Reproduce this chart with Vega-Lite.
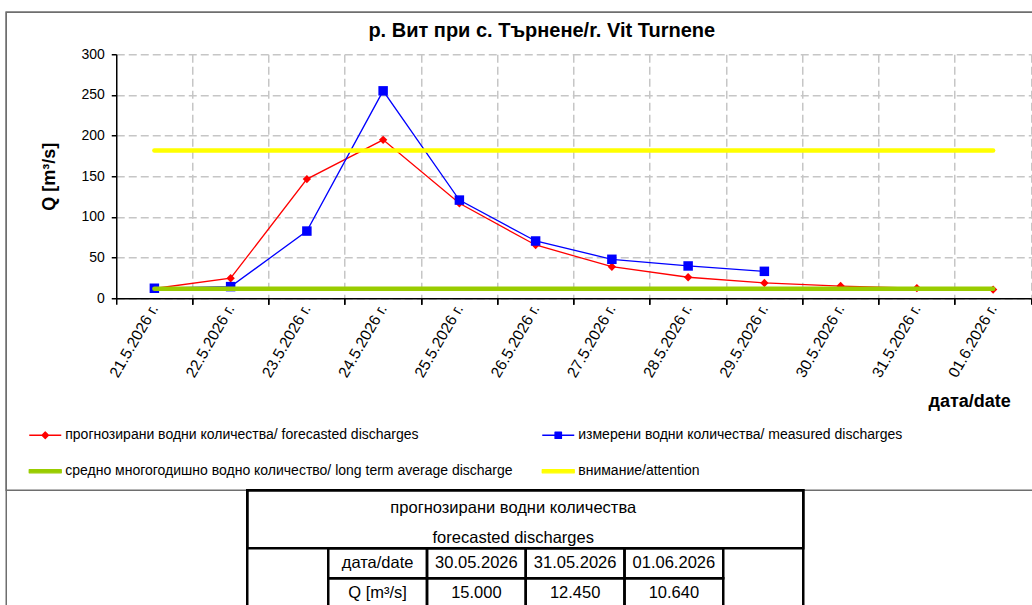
{
  "$schema": "https://vega.github.io/schema/vega-lite/v6.json",
  "autosize": {"type": "pad"},
  "padding": {"left": 5.25, "top": 11.25, "right": 0, "bottom": 0},
  "bounds": "flush",
  "spacing": 192,
  "background": "white",
  "config": {
    "font": "Liberation Sans",
    "view": {"stroke": null},
    "axis": {"labelColor": "black", "titleColor": "black", "domainColor": "black", "tickColor": "black", "labelFont": "Liberation Sans", "titleFont": "Liberation Sans", "gridColor": "#c6c6c6", "gridDash": [8, 4], "gridWidth": 1.5, "domainWidth": 1.5, "tickWidth": 1.5},
    "title": {"font": "Liberation Sans", "color": "black"}
  },
  "vconcat": [
    {
      "width": 915,
      "height": 244,
      "title": {"text": "р. Вит при с. Търнене/r. Vit Turnene", "fontSize": 20, "fontWeight": "bold", "dx": -32, "offset": 6},
      "data": {"values": [
        {"d": "21.5.2026 г.", "s": "f", "q": 12},
        {"d": "22.5.2026 г.", "s": "f", "q": 24.6},
        {"d": "23.5.2026 г.", "s": "f", "q": 146.5},
        {"d": "24.5.2026 г.", "s": "f", "q": 194.8},
        {"d": "25.5.2026 г.", "s": "f", "q": 116.7},
        {"d": "26.5.2026 г.", "s": "f", "q": 65.5},
        {"d": "27.5.2026 г.", "s": "f", "q": 38.8},
        {"d": "28.5.2026 г.", "s": "f", "q": 25.8},
        {"d": "29.5.2026 г.", "s": "f", "q": 18.8},
        {"d": "30.5.2026 г.", "s": "f", "q": 15.0},
        {"d": "31.5.2026 г.", "s": "f", "q": 12.45},
        {"d": "01.6.2026 г.", "s": "f", "q": 10.64},
        {"d": "21.5.2026 г.", "s": "m", "q": 12.3},
        {"d": "22.5.2026 г.", "s": "m", "q": 14.3},
        {"d": "23.5.2026 г.", "s": "m", "q": 82.6},
        {"d": "24.5.2026 г.", "s": "m", "q": 255},
        {"d": "25.5.2026 г.", "s": "m", "q": 120.7},
        {"d": "26.5.2026 г.", "s": "m", "q": 70.4},
        {"d": "27.5.2026 г.", "s": "m", "q": 47.9},
        {"d": "28.5.2026 г.", "s": "m", "q": 39.7},
        {"d": "29.5.2026 г.", "s": "m", "q": 33.1},
        {"d": "21.5.2026 г.", "s": "a", "q": 11.8},
        {"d": "22.5.2026 г.", "s": "a", "q": 11.8},
        {"d": "23.5.2026 г.", "s": "a", "q": 11.8},
        {"d": "24.5.2026 г.", "s": "a", "q": 11.8},
        {"d": "25.5.2026 г.", "s": "a", "q": 11.8},
        {"d": "26.5.2026 г.", "s": "a", "q": 11.8},
        {"d": "27.5.2026 г.", "s": "a", "q": 11.8},
        {"d": "28.5.2026 г.", "s": "a", "q": 11.8},
        {"d": "29.5.2026 г.", "s": "a", "q": 11.8},
        {"d": "30.5.2026 г.", "s": "a", "q": 11.8},
        {"d": "31.5.2026 г.", "s": "a", "q": 11.8},
        {"d": "01.6.2026 г.", "s": "a", "q": 11.8},
        {"d": "21.5.2026 г.", "s": "w", "q": 181.7},
        {"d": "22.5.2026 г.", "s": "w", "q": 181.7},
        {"d": "23.5.2026 г.", "s": "w", "q": 181.7},
        {"d": "24.5.2026 г.", "s": "w", "q": 181.7},
        {"d": "25.5.2026 г.", "s": "w", "q": 181.7},
        {"d": "26.5.2026 г.", "s": "w", "q": 181.7},
        {"d": "27.5.2026 г.", "s": "w", "q": 181.7},
        {"d": "28.5.2026 г.", "s": "w", "q": 181.7},
        {"d": "29.5.2026 г.", "s": "w", "q": 181.7},
        {"d": "30.5.2026 г.", "s": "w", "q": 181.7},
        {"d": "31.5.2026 г.", "s": "w", "q": 181.7},
        {"d": "01.6.2026 г.", "s": "w", "q": 181.7}
      ]},
      "resolve": {"axis": {"x": "independent"}},
      "encoding": {
        "y": {"field": "q", "type": "quantitative", "scale": {"domain": [0, 300], "nice": false},
          "axis": {"values": [0, 50, 100, 150, 200, 250, 300], "grid": true, "tickSize": 5, "labelFontSize": 14, "labelPadding": 7, "title": "Q [m³/s]", "titleFontSize": 18, "titleFontWeight": "bold", "titlePadding": 22}},
        "color": {"field": "s", "type": "nominal",
          "scale": {"domain": ["f", "m", "a", "w"], "range": ["#ff0000", "#0000ff", "#99cc00", "#ffff00"]},
          "legend": {
            "orient": "none", "legendX": -88, "legendY": 364, "columns": 2, "direction": "horizontal", "title": null,
            "columnPadding": 28, "rowPadding": 12, "padding": 0,
            "symbolSize": 1024, "symbolStrokeWidth": 1.3, "labelFontSize": 14, "labelColor": "black", "labelOffset": 3, "labelLimit": 0,
            "labelExpr": "datum.value === 'f' ? 'прогнозирани водни количества/ forecasted discharges' : datum.value === 'm' ? 'измерени водни количества/ measured discharges' : datum.value === 'a' ? 'средно многогодишно водно количество/ long term average discharge' : 'внимание/attention'",
            "encode": {"symbols": {"update": {
              "size": {"value": 1024},
              "strokeWidth": {"value": 1.3},
              "shape": {"signal": "datum.value === 'f' ? 'M-1,0H1M0,-0.2L0.2,0L0,0.2L-0.2,0Z' : datum.value === 'm' ? 'M-1,0H1M-0.2,-0.2H0.2V0.2H-0.2Z' : 'M-1,-0.1H1V0.1H-1Z'"},
              "fill": {"signal": "datum.value === 'f' ? '#ff0000' : datum.value === 'm' ? '#0000ff' : datum.value === 'a' ? '#99cc00' : '#ffff00'"},
              "stroke": {"signal": "datum.value === 'f' ? '#ff0000' : datum.value === 'm' ? '#0000ff' : datum.value === 'a' ? '#99cc00' : '#ffff00'"},
              "opacity": {"value": 1},
              "strokeJoin": {"value": "round"}
            }}}
          }}
      },
      "layer": [
        {
          "transform": [{"filter": "datum.s === 'f'"}],
          "mark": {"type": "line", "strokeWidth": 1.3, "point": {"shape": "diamond", "size": 70, "filled": true}},
          "encoding": {"x": {"field": "d", "type": "ordinal",
            "scale": {"type": "band", "domain": ["21.5.2026 г.", "22.5.2026 г.", "23.5.2026 г.", "24.5.2026 г.", "25.5.2026 г.", "26.5.2026 г.", "27.5.2026 г.", "28.5.2026 г.", "29.5.2026 г.", "30.5.2026 г.", "31.5.2026 г.", "01.6.2026 г."], "paddingInner": 0, "paddingOuter": 0},
            "axis": {"orient": "bottom", "bandPosition": 0.5, "ticks": false, "domain": false, "grid": false, "labelAngle": -60, "labelFontSize": 15.5, "labelPadding": 7, "title": "дата/date", "titleFontSize": 18, "titleFontWeight": "bold", "titleX": 894, "titleY": 108, "titleAlign": "right", "titleBaseline": "alphabetic"}}}
        },
        {
          "transform": [{"filter": "datum.s === 'm'"}],
          "mark": {"type": "line", "strokeWidth": 1.3, "point": {"shape": "square", "size": 90, "filled": true}},
          "encoding": {"x": {"field": "d", "type": "ordinal",
            "scale": {"type": "band", "domain": ["21.5.2026 г.", "22.5.2026 г.", "23.5.2026 г.", "24.5.2026 г.", "25.5.2026 г.", "26.5.2026 г.", "27.5.2026 г.", "28.5.2026 г.", "29.5.2026 г.", "30.5.2026 г.", "31.5.2026 г.", "01.6.2026 г."], "paddingInner": 0, "paddingOuter": 0},
            "axis": {"orient": "bottom", "bandPosition": 1, "labels": false, "ticks": true, "tickSize": 6, "domain": true, "grid": true, "title": null}}}
        },
        {
          "transform": [{"filter": "datum.s === 'a'"}],
          "mark": {"type": "line", "strokeWidth": 4.5, "strokeCap": "round"},
          "encoding": {"x": {"field": "d", "type": "ordinal",
            "scale": {"type": "band", "domain": ["21.5.2026 г.", "22.5.2026 г.", "23.5.2026 г.", "24.5.2026 г.", "25.5.2026 г.", "26.5.2026 г.", "27.5.2026 г.", "28.5.2026 г.", "29.5.2026 г.", "30.5.2026 г.", "31.5.2026 г.", "01.6.2026 г."], "paddingInner": 0, "paddingOuter": 0},
            "axis": {"orient": "bottom", "bandPosition": 0, "labels": false, "ticks": true, "tickSize": 6, "domain": false, "grid": false, "title": null}}}
        },
        {
          "transform": [{"filter": "datum.s === 'w'"}],
          "mark": {"type": "line", "strokeWidth": 4.5, "strokeCap": "round"},
          "encoding": {"x": {"field": "d", "type": "ordinal",
            "scale": {"type": "band", "domain": ["21.5.2026 г.", "22.5.2026 г.", "23.5.2026 г.", "24.5.2026 г.", "25.5.2026 г.", "26.5.2026 г.", "27.5.2026 г.", "28.5.2026 г.", "29.5.2026 г.", "30.5.2026 г.", "31.5.2026 г.", "01.6.2026 г."], "paddingInner": 0, "paddingOuter": 0},
            "axis": null}}
        }
      ]
    },
    {
      "width": 915,
      "height": 118,
      "resolve": {"scale": {"x": "independent", "y": "independent"}},
      "layer": [
        {
          "data": {"values": [{"k": "frame"}]},
          "mark": {"type": "rect", "fill": "transparent", "stroke": "#6e6e6e", "strokeWidth": 1.5},
          "encoding": {
            "x": {"field": "k", "type": "nominal", "scale": {"range": [-110, 960], "paddingInner": 0, "paddingOuter": 0}, "axis": null},
            "y": {"field": "k", "type": "nominal", "scale": {"range": [-478, 0], "paddingInner": 0, "paddingOuter": 0}, "axis": null}
          }
        },
        {
          "data": {"values": [{"k": "frame"}]},
          "mark": {"type": "rect", "fill": "transparent", "stroke": "#6e6e6e", "strokeWidth": 1.5},
          "encoding": {
            "x": {"field": "k", "type": "nominal", "scale": {"range": [-110, 960], "paddingInner": 0, "paddingOuter": 0}, "axis": null},
            "y": {"field": "k", "type": "nominal", "scale": {"range": [-478, 400], "paddingInner": 0, "paddingOuter": 0}, "axis": null}
          }
        },
        {
          "data": {"values": [{"k": "table"}]},
          "mark": {"type": "rect", "fill": "white", "stroke": "black", "strokeWidth": 2.5},
          "encoding": {
            "x": {"field": "k", "type": "nominal", "scale": {"range": [131, 687], "paddingInner": 0, "paddingOuter": 0}, "axis": null},
            "y": {"field": "k", "type": "nominal", "scale": {"range": [0, 400], "paddingInner": 0, "paddingOuter": 0}, "axis": null}
          }
        },
        {
          "data": {"values": [{"k": "header"}]},
          "mark": {"type": "rect", "fill": "transparent", "stroke": "black", "strokeWidth": 2.5},
          "encoding": {
            "x": {"field": "k", "type": "nominal", "scale": {"range": [131, 687], "paddingInner": 0, "paddingOuter": 0}, "axis": null},
            "y": {"field": "k", "type": "nominal", "scale": {"range": [0, 58], "paddingInner": 0, "paddingOuter": 0}, "axis": null}
          }
        },
        {
          "data": {"values": [{"k": "header", "line": "h1", "t": "прогнозирани водни количества"}, {"k": "header", "line": "h2", "t": "forecasted discharges"}]},
          "mark": {"type": "text", "fontSize": 16.5, "color": "black", "baseline": "middle"},
          "encoding": {
            "x": {"field": "k", "type": "nominal", "scale": {"range": [107, 687], "paddingInner": 0, "paddingOuter": 0}, "axis": null},
            "y": {"field": "line", "type": "nominal", "scale": {"domain": ["h1", "h2"], "range": [3, 62], "paddingInner": 0, "paddingOuter": 0}, "axis": null},
            "text": {"field": "t"}
          }
        },
        {
          "data": {"values": [
            {"col": "label", "row": "date", "t": "дата/date"},
            {"col": "d1", "row": "date", "t": "30.05.2026"},
            {"col": "d2", "row": "date", "t": "31.05.2026"},
            {"col": "d3", "row": "date", "t": "01.06.2026"},
            {"col": "label", "row": "q", "t": "Q [m³/s]"},
            {"col": "d1", "row": "q", "t": "15.000"},
            {"col": "d2", "row": "q", "t": "12.450"},
            {"col": "d3", "row": "q", "t": "10.640"}
          ]},
          "encoding": {
            "x": {"field": "col", "type": "nominal", "scale": {"domain": ["label", "d1", "d2", "d3"], "range": [212, 607], "paddingInner": 0, "paddingOuter": 0}, "axis": null},
            "y": {"field": "row", "type": "nominal", "scale": {"domain": ["date", "q"], "range": [58, 118], "paddingInner": 0, "paddingOuter": 0}, "axis": null}
          },
          "layer": [
            {"mark": {"type": "rect", "fill": "transparent", "stroke": "black", "strokeWidth": 2.5}},
            {"mark": {"type": "text", "fontSize": 16.5, "color": "black", "baseline": "middle"}, "encoding": {"text": {"field": "t"}}}
          ]
        }
      ]
    }
  ]
}
